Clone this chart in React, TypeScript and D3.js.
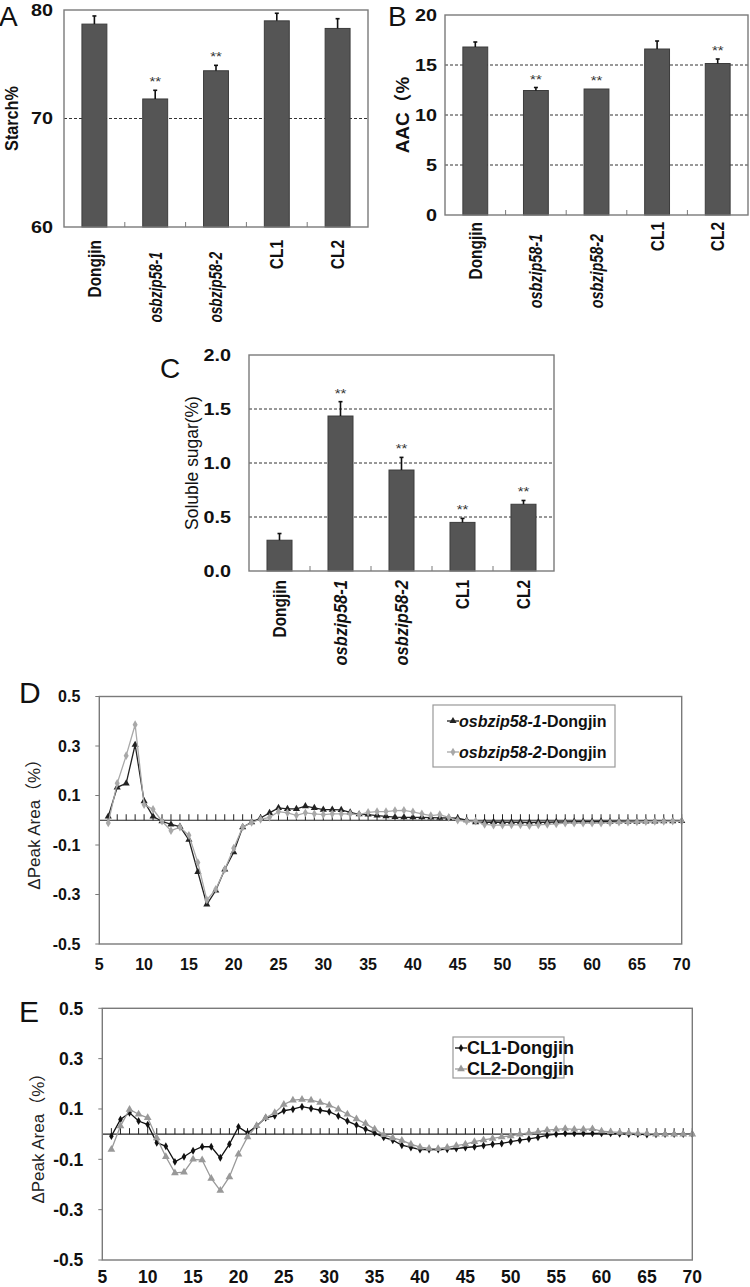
import React from "react";
import * as d3 from "d3";

const categories = ["Dongjin", "osbzip58-1", "osbzip58-2", "CL1", "CL2"];
const italicCats = [false, true, true, false, false];

const starchMean = [78.7, 71.8, 74.4, 79.0, 78.3];
const starchErr = [0.75, 0.8, 0.5, 0.7, 0.9];
const starchSig = [false, true, true, false, false];
const starchTicks = [60, 70, 80];
const starchGrid = [70];

const aacMean = [16.8, 12.45, 12.6, 16.6, 15.15];
const aacErr = [0.5, 0.3, 0.0, 0.8, 0.45];
const aacSig = [false, true, true, false, true];
const aacTicks = [0, 5, 10, 15, 20];
const aacGrid = [5, 10, 15];

const sugarMean = [0.285, 1.435, 0.935, 0.45, 0.618];
const sugarErr = [0.062, 0.133, 0.117, 0.037, 0.035];
const sugarSig = [false, true, true, true, true];
const sugarTicks = [0, 0.5, 1.0, 1.5, 2.0];
const sugarGrid = [0.5, 1.0, 1.5];

const peakX = [6, 7, 8, 9, 10, 11, 12, 13, 14, 15, 16, 17, 18, 19, 20, 21, 22, 23, 24, 25, 26, 27, 28, 29, 30, 31, 32, 33, 34, 35, 36, 37, 38, 39, 40, 41, 42, 43, 44, 45, 46, 47, 48, 49, 50, 51, 52, 53, 54, 55, 56, 57, 58, 59, 60, 61, 62, 63, 64, 65, 66, 67, 68, 69, 70];

const mut1 = [0.015, 0.133, 0.149, 0.305, 0.077, 0.015, -0.004, -0.017, -0.026, -0.079, -0.209, -0.34, -0.284, -0.199, -0.129, -0.028, -0.008, 0.009, 0.03, 0.05, 0.046, 0.046, 0.057, 0.05, 0.043, 0.043, 0.042, 0.032, 0.024, 0.023, 0.019, 0.016, 0.013, 0.012, 0.012, 0.012, 0.011, 0.01, 0.009, 0.008, 0.0, -0.008, -0.008, -0.007, -0.008, -0.008, -0.008, -0.009, -0.008, -0.008, -0.007, -0.007, -0.006, -0.006, -0.006, -0.005, -0.006, -0.005, -0.006, -0.006, -0.005, -0.005, -0.004, -0.004, -0.003];
const mut2 = [-0.011, 0.149, 0.261, 0.386, 0.063, 0.044, -0.004, -0.042, -0.028, -0.061, -0.171, -0.322, -0.279, -0.199, -0.113, -0.028, -0.009, 0.004, 0.012, 0.035, 0.03, 0.02, 0.03, 0.026, 0.023, 0.026, 0.026, 0.026, 0.023, 0.032, 0.035, 0.035, 0.039, 0.04, 0.034, 0.026, 0.019, 0.023, 0.012, 0.0, -0.004, -0.004, -0.017, -0.02, -0.02, -0.019, -0.019, -0.022, -0.019, -0.017, -0.015, -0.012, -0.012, -0.012, -0.012, -0.012, -0.01, -0.008, -0.008, -0.007, -0.006, -0.005, -0.005, -0.004, -0.004];

const cl1 = [-0.008, 0.058, 0.085, 0.052, 0.038, -0.034, -0.048, -0.11, -0.09, -0.066, -0.05, -0.05, -0.094, -0.04, 0.029, 0.005, 0.032, 0.065, 0.073, 0.093, 0.099, 0.109, 0.102, 0.095, 0.089, 0.072, 0.052, 0.036, 0.02, 0.005, -0.013, -0.024, -0.044, -0.053, -0.061, -0.061, -0.061, -0.06, -0.057, -0.053, -0.05, -0.045, -0.04, -0.037, -0.03, -0.024, -0.019, -0.013, -0.005, 0.0, 0.003, 0.003, 0.003, 0.003, 0.003, 0.003, 0.001, 0.0, 0.0, -0.002, -0.001, 0.0, 0.0, 0.0, 0.0];
const cl2 = [-0.061, 0.032, 0.098, 0.079, 0.065, -0.015, -0.09, -0.154, -0.151, -0.1, -0.103, -0.176, -0.224, -0.17, -0.08, -0.011, 0.033, 0.065, 0.085, 0.118, 0.135, 0.138, 0.135, 0.126, 0.115, 0.099, 0.079, 0.06, 0.042, 0.02, -0.002, -0.015, -0.025, -0.04, -0.052, -0.057, -0.058, -0.053, -0.046, -0.04, -0.03, -0.023, -0.017, -0.011, -0.007, 0.0, 0.005, 0.009, 0.016, 0.019, 0.022, 0.019, 0.019, 0.021, 0.012, 0.009, 0.007, 0.005, 0.003, 0.003, 0.0, 0.0, 0.0, 0.0, 0.0];

const peakYTicks = [-0.5, -0.3, -0.1, 0.1, 0.3, 0.5];
const peakXTicks = [5, 10, 15, 20, 25, 30, 35, 40, 45, 50, 55, 60, 65, 70];

const FONT = "'Liberation Sans', Arial, 'Noto Sans CJK SC', sans-serif";
const BOX = "#7a7a7a";

type BarProps = {
  x0: number; x1: number; y0: number; y1: number;
  domain: [number, number];
  ticks: number[]; grid: number[];
  fmt: (v: number) => string;
  means: number[]; errs: number[]; sig: boolean[];
  title: string; titleX: number; titleBold: boolean; titleSize: number; titleScale: number;
  letter: string; letterX: number; letterY: number;
  labelGap: number; catTop: number; italicOffset: number; italicScale: number;
};

function BarPanel(p: BarProps) {
  const x = d3.scaleBand<string>().domain(categories).range([p.x0, p.x1]).padding(0);
  const y = d3.scaleLinear().domain(p.domain).range([p.y1, p.y0]);
  const bw = x.bandwidth() * 0.41;
  const midY = (p.y0 + p.y1) / 2;
  return (
    <g fontFamily={FONT}>
      <text x={p.letterX} y={p.letterY} fontSize={28} fill="#111">{p.letter}</text>
      {p.grid.map((g) => (
        <line key={"g" + g} x1={p.x0} x2={p.x1} y1={y(g)} y2={y(g)} stroke="#333" strokeWidth={1} strokeDasharray="3,2" />
      ))}
      {categories.map((c, i) => {
        const cx = (x(c) as number) + x.bandwidth() / 2;
        const top = y(p.means[i]);
        const et = y(p.means[i] + p.errs[i]);
        const sc = italicCats[i] ? p.italicScale : 0.86;
        return (
          <g key={c}>
            <rect x={cx - bw / 2} y={top} width={bw} height={p.y1 - top} fill="#555555" stroke="#3c3c3c" strokeWidth={1} />
            {p.errs[i] > 0 && (
              <g stroke="#111" strokeWidth={1.6}>
                <line x1={cx} x2={cx} y1={top} y2={et} />
                <line x1={cx - 2} x2={cx + 2} y1={et} y2={et} />
              </g>
            )}
            {p.sig[i] && (
              <text transform={`translate(${cx},${et - 4}) scale(1.15,1)`} textAnchor="middle" fontSize={13} fill="#333">**</text>
            )}
            <text
              transform={`translate(${cx},${p.catTop + (italicCats[i] ? p.italicOffset : 0)}) rotate(-90) scale(${sc},1)`}
              textAnchor="end" dy="0.36em" fontSize={18} fontWeight="bold"
              fontStyle={italicCats[i] ? "italic" : "normal"} fill="#111"
            >{c}</text>
          </g>
        );
      })}
      {categories.slice(1).map((c) => (
        <line key={"t" + c} x1={x(c) as number} x2={x(c) as number} y1={p.y1} y2={p.y1 - 5} stroke={BOX} strokeWidth={1} />
      ))}
      <rect x={p.x0} y={p.y0} width={p.x1 - p.x0} height={p.y1 - p.y0} fill="none" stroke={BOX} strokeWidth={1.4} />
      {p.ticks.map((t) => (
        <text key={"y" + t} transform={`translate(${p.x0 - p.labelGap},${y(t)}) scale(1.2,1)`} dy="0.36em" textAnchor="end" fontSize={16.5} fontWeight="bold" fill="#111">{p.fmt(t)}</text>
      ))}
      <text transform={`translate(${p.titleX},${midY}) rotate(-90) scale(${p.titleScale},1)`} textAnchor="middle" dy="0.36em"
        fontSize={p.titleSize} fontWeight={p.titleBold ? "bold" : "normal"} fill="#111">{p.title}</text>
    </g>
  );
}

type Series = { values: number[]; color: string; marker: "triangle" | "diamond"; size: number; label: React.ReactNode };

type LineProps = {
  x0: number; x1: number; y0: number; y1: number;
  series: Series[];
  letter: string; letterX: number; letterY: number;
  titleX: number; tickFont: number; titleFont: number; xLabelOffset: number;
  legend: { x: number; y: number; w: number; h: number; rows: number[]; lineX: number; fontSize: number };
};

function markerPath(m: "triangle" | "diamond", size: number) {
  const type = m === "triangle" ? d3.symbolTriangle : d3.symbolDiamond;
  return d3.symbol().type(type).size(size)() as string;
}

function LinePanel(p: LineProps) {
  const x = d3.scaleLinear().domain([5, 70]).range([p.x0, p.x1]);
  const y = d3.scaleLinear().domain([-0.5, 0.5]).range([p.y1, p.y0]);
  const line = d3.line<number>().x((_, i) => x(peakX[i])).y((d) => y(d));
  const zeroTicks = d3.range(6, 71);
  const fmt = (v: number) => d3.format(".1f")(v).replace("−", "-");
  return (
    <g fontFamily={FONT}>
      <text x={p.letterX} y={p.letterY} fontSize={30} fill="#111">{p.letter}</text>
      <line x1={p.x0} x2={p.x1} y1={y(0)} y2={y(0)} stroke="#222" strokeWidth={1.2} />
      {zeroTicks.map((t) => (
        <line key={"z" + t} x1={x(t)} x2={x(t)} y1={y(0)} y2={y(0) - 6} stroke="#222" strokeWidth={1} />
      ))}
      {p.series.map((s, k) => (
        <g key={"s" + k}>
          <path d={line(s.values) as string} fill="none" stroke={s.color} strokeWidth={1.3} />
          {s.values.map((v, i) => (
            <path key={i} d={markerPath(s.marker, s.size)} transform={`translate(${x(peakX[i])},${y(v)})`} fill={s.color} />
          ))}
        </g>
      ))}
      <rect x={p.x0} y={p.y0} width={p.x1 - p.x0} height={p.y1 - p.y0} fill="none" stroke={BOX} strokeWidth={1.4} />
      {peakYTicks.map((t) => (
        <g key={"yt" + t}>
          <line x1={p.x0 - 4} x2={p.x0} y1={y(t)} y2={y(t)} stroke={BOX} />
          <text x={p.x0 - 19} y={y(t)} dy="0.36em" textAnchor="end" fontSize={p.tickFont} fontWeight="bold" fill="#111">{fmt(t)}</text>
        </g>
      ))}
      {peakXTicks.map((t) => (
        <text key={"xt" + t} x={x(t)} y={p.y1 + p.xLabelOffset} dy="0.36em" textAnchor="middle" fontSize={p.tickFont} fontWeight="bold" fill="#111">{t}</text>
      ))}
      <text transform={`translate(${p.titleX},${y(0)}) rotate(-90)`} textAnchor="middle" dy="0.36em" fontSize={p.titleFont} fill="#222">ΔPeak Area（%）</text>
      <rect x={p.legend.x} y={p.legend.y} width={p.legend.w} height={p.legend.h} fill="#fff" stroke="#999" strokeWidth={1.2} />
      {p.series.map((s, k) => (
        <g key={"l" + k}>
          <line x1={p.legend.lineX} x2={p.legend.lineX + 12} y1={p.legend.rows[k]} y2={p.legend.rows[k]} stroke={s.color} strokeWidth={1.3} />
          <path d={markerPath(s.marker, s.size)} transform={`translate(${p.legend.lineX + 6},${p.legend.rows[k]})`} fill={s.color} />
          <text x={p.legend.lineX + 12} y={p.legend.rows[k]} dy="0.36em" fontSize={p.legend.fontSize} fontWeight="bold" fill="#111">{s.label}</text>
        </g>
      ))}
    </g>
  );
}

export default function App() {
  return (
    <svg width={750} height={1287} style={{ position: "absolute", left: 0, top: 0, background: "#fff" }}>
      <rect x={0} y={0} width={750} height={1287} fill="#fff" />
      <BarPanel x0={64} x1={368} y0={10} y1={227} domain={[60, 80]} ticks={starchTicks} grid={starchGrid}
        fmt={(v) => String(v)} means={starchMean} errs={starchErr} sig={starchSig}
        title="Starch%" titleX={12} titleBold={true} titleSize={18} titleScale={0.9}
        letter="A" letterX={-1} letterY={26} labelGap={11} catTop={240} italicOffset={12} italicScale={0.76} />
      <BarPanel x0={445} x1={748} y0={15} y1={215} domain={[0, 20]} ticks={aacTicks} grid={aacGrid}
        fmt={(v) => String(v)} means={aacMean} errs={aacErr} sig={aacSig}
        title="AAC（%" titleX={403} titleBold={true} titleSize={18} titleScale={1.05}
        letter="B" letterX={388} letterY={26} labelGap={8} catTop={222} italicOffset={12} italicScale={0.8} />
      <BarPanel x0={249} x1={554} y0={355} y1={571} domain={[0, 2]} ticks={sugarTicks} grid={sugarGrid}
        fmt={(v) => d3.format(".1f")(v)} means={sugarMean} errs={sugarErr} sig={sugarSig}
        title="Soluble sugar(%)" titleX={192} titleBold={false} titleSize={18} titleScale={0.97}
        letter="C" letterX={160} letterY={378} labelGap={18} catTop={580} italicOffset={0} italicScale={0.92} />
      <LinePanel x0={99.3} x1={681.7} y0={696.5} y1={944}
        series={[
          { values: mut1, color: "#222", marker: "triangle", size: 22, label: (<><tspan fontStyle="italic">osbzip58-1</tspan>-Dongjin</>) },
          { values: mut2, color: "#a8a8a8", marker: "diamond", size: 22, label: (<><tspan fontStyle="italic">osbzip58-2</tspan>-Dongjin</>) },
        ]}
        letter="D" letterX={19} letterY={703} titleX={34} tickFont={16} titleFont={17} xLabelOffset={20}
        legend={{ x: 433, y: 705, w: 182, h: 62, rows: [721, 752], lineX: 447, fontSize: 16 }} />
      <LinePanel x0={102.3} x1={692.3} y0={1008.3} y1={1260}
        series={[
          { values: cl1, color: "#111", marker: "diamond", size: 18, label: "CL1-Dongjin" },
          { values: cl2, color: "#999", marker: "triangle", size: 26, label: "CL2-Dongjin" },
        ]}
        letter="E" letterX={19} letterY={1022} titleX={38} tickFont={17.5} titleFont={17} xLabelOffset={17}
        legend={{ x: 453, y: 1037, w: 111, h: 41, rows: [1048, 1069], lineX: 455, fontSize: 18 }} />
    </svg>
  );
}
